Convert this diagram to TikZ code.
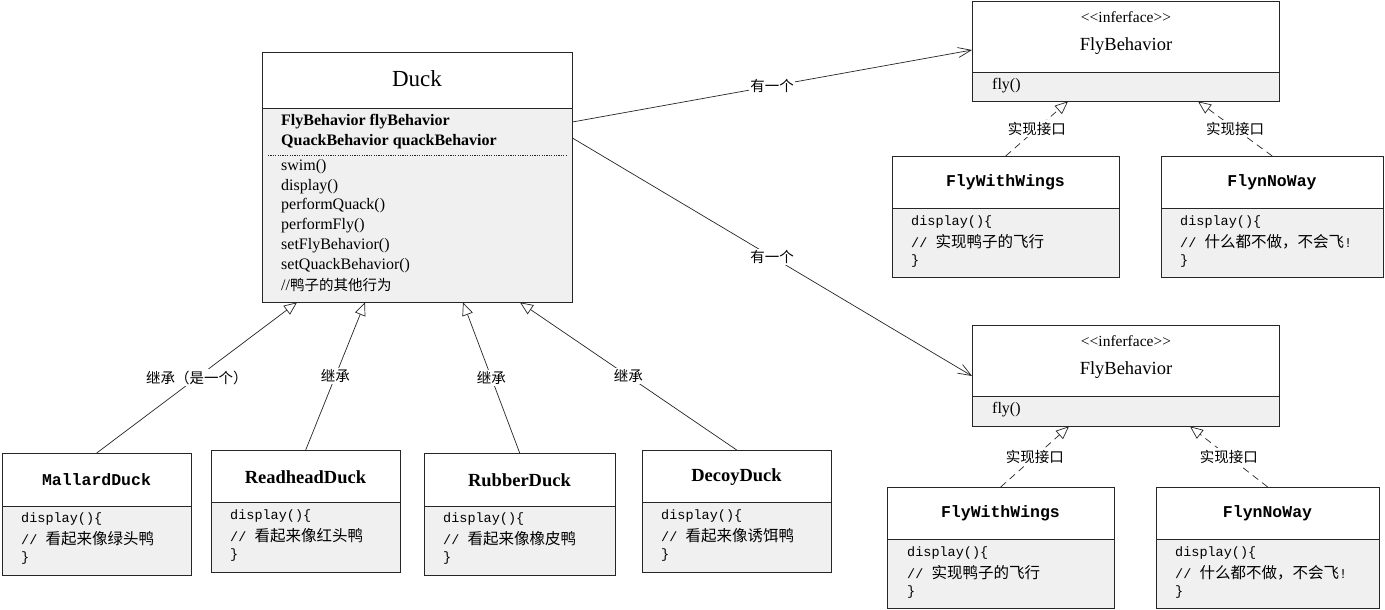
\documentclass[tikz,border=0pt]{standalone}
\usepackage{fontspec}
\setmainfont{Liberation Serif}
\newfontfamily\rawserif{Liberation Serif}
\newfontfamily\cjk{Noto Sans CJK SC}
\newfontfamily\mono{Liberation Mono}
\usetikzlibrary{arrows.meta,calc}
\definecolor{bodygray}{HTML}{F0F0F0}
\definecolor{edge}{HTML}{262626}
\tikzset{
 umlbox/.style={fill=bodygray, inner sep=0pt, anchor=north west},
 lbl/.style={fill=white, inner sep=1.5pt, font=\cjk\fontsize{14.5}{15}\selectfont},
 inh/.style={draw=edge, line width=0.7pt, -{Triangle[open, length=13pt, width=11pt, fill=white]}},
 real/.style={inh, dash pattern=on 7pt off 5pt},
 hasa/.style={draw=edge, line width=0.7pt, -{Straight Barb[length=13pt, width=10pt]}},
 bodytxt/.style={anchor=west, inner sep=0pt, font=\mono\fontsize{13.5}{16}\selectfont},
 ducktxt/.style={anchor=west, inner sep=0pt, font=\fontsize{16}{17}\selectfont},
 sertitle/.style={inner sep=0pt, font=\bfseries\fontsize{18.5}{19}\selectfont},
 montitle/.style={inner sep=0pt, font=\mono\bfseries\fontsize{16.5}{18}\selectfont},
 stereo/.style={inner sep=0pt, font=\rawserif\fontsize{15.5}{16}\selectfont},
}
\newcommand\umlrect[6]{%
 \node[umlbox, minimum width=#4pt-#2pt, minimum height=#5pt-#3pt] (#1) at (#2,#3) {};
 \fill[white] (#2,#3) rectangle (#4,#6);
 \draw[edge, line width=0.9pt] (#2,#6) -- (#4,#6);
 \draw[edge, line width=0.9pt] (#1.north west) rectangle (#1.south east);
}
\newcommand\bodylines[5]{% x, y1, line1, line2, line3
 \node[bodytxt] at (#1,#2) {#3};
 \node[bodytxt] at (#1,#2+19.5) {#4};
 \node[bodytxt] at (#1,#2+39) {#5};
}
\begin{document}
\begin{tikzpicture}[x=1pt,y=-1pt]
\fill[white] (0,0) rectangle (1385,610);
\useasboundingbox (0,0) rectangle (1385,610);

% Duck
\umlrect{duck}{262}{52}{572}{302}{108}
\node[inner sep=0pt, font=\fontsize{23}{24}\selectfont] (ducktitle) at (417,79) {Duck};
\node[ducktxt, font=\bfseries\fontsize{16}{17}\selectfont] at (281,122) {FlyBehavior flyBehavior};
\node[ducktxt, font=\bfseries\fontsize{16}{17}\selectfont] at (281,142) {QuackBehavior quackBehavior};
\draw[edge, line width=0.6pt, dash pattern=on 1.2pt off 1.2pt] (268,155) -- (566,155);
\node[ducktxt] at (281,167) {swim()};
\node[ducktxt] at (281,186.5) {display()};
\node[ducktxt] at (281,206) {performQuack()};
\node[ducktxt] at (281,226) {performFly()};
\node[ducktxt] at (281,246) {setFlyBehavior()};
\node[ducktxt] at (281,266) {setQuackBehavior()};
\node[ducktxt] at (281,285) {//{\cjk\fontsize{14.5}{16}\selectfont 鸭子的其他行为}};

% Top interface
\umlrect{fbA}{972}{1}{1279}{101}{72}
\node[stereo] at (1126,17) {<<inferface>>};
\node[inner sep=0pt, font=\fontsize{18.5}{20}\selectfont] at (1126,46) {FlyBehavior};
\node[ducktxt] at (992,86) {fly()};

% Top implementations
\umlrect{fwwA}{892}{156}{1119}{277}{208}
\node[montitle] at (1005.5,182) {FlyWithWings};
\bodylines{911}{222}{display()\{}{// {\cjk\fontsize{15.5}{16}\selectfont 实现鸭子的飞行}}{\}}
\umlrect{fnwA}{1161}{156}{1383}{277}{208}
\node[montitle] at (1272,182) {FlynNoWay};
\bodylines{1180}{222}{display()\{}{// {\cjk\fontsize{15.5}{16}\selectfont 什么都不做，不会飞}!}{\}}

% Lower interface
\umlrect{fbB}{972}{325}{1279}{426}{396}
\node[stereo] at (1126,341) {<<inferface>>};
\node[inner sep=0pt, font=\fontsize{18.5}{20}\selectfont] at (1126,370) {FlyBehavior};
\node[ducktxt] at (992,410) {fly()};

% Lower implementations
\umlrect{fwwB}{887}{487}{1114}{608}{539}
\node[montitle] at (1000.5,513) {FlyWithWings};
\bodylines{907}{553}{display()\{}{// {\cjk\fontsize{15.5}{16}\selectfont 实现鸭子的飞行}}{\}}
\umlrect{fnwB}{1156}{487}{1379}{608}{539}
\node[montitle] at (1267.5,513) {FlynNoWay};
\bodylines{1175}{553}{display()\{}{// {\cjk\fontsize{15.5}{16}\selectfont 什么都不做，不会飞}!}{\}}

% Duck subclasses
\umlrect{mallard}{2}{453}{191}{575}{506}
\node[montitle] at (96.5,480) {MallardDuck};
\bodylines{21}{519}{display()\{}{// {\cjk\fontsize{15.5}{16}\selectfont 看起来像绿头鸭}}{\}}
\umlrect{readhead}{211}{450}{400}{572}{502}
\node[sertitle] at (305.5,477) {ReadheadDuck};
\bodylines{230}{516}{display()\{}{// {\cjk\fontsize{15.5}{16}\selectfont 看起来像红头鸭}}{\}}
\umlrect{rubber}{424}{453}{615}{575}{506}
\node[sertitle] at (519.5,480) {RubberDuck};
\bodylines{443}{519}{display()\{}{// {\cjk\fontsize{15.5}{16}\selectfont 看起来像橡皮鸭}}{\}}
\umlrect{decoy}{642}{450}{831}{572}{502}
\node[sertitle] at (736.5,477) {DecoyDuck};
\bodylines{661}{516}{display()\{}{// {\cjk\fontsize{15.5}{16}\selectfont 看起来像诱饵鸭}}{\}}

% inheritance
\draw[inh] (mallard.north) -- node[lbl] {继承（是一个）} ([xshift=35pt]duck.south west);
\draw[inh] (readhead.north) -- node[lbl] {继承} ([xshift=103pt]duck.south west);
\draw[inh] (rubber.north) -- node[lbl] {继承} ([xshift=201pt]duck.south west);
\draw[inh] (decoy.north) -- node[lbl] {继承} ([xshift=258pt]duck.south west);

% has-a
\draw[hasa] ([yshift=-70pt]duck.north east) -- node[lbl] {有一个} ([yshift=-49pt]fbA.north west);
\draw[hasa] ([yshift=-86pt]duck.north east) -- node[lbl] {有一个} ([yshift=-51pt]fbB.north west);

% realization
\draw[real] (fwwA.north) -- node[lbl] {实现接口} ([xshift=96pt]fbA.south west);
\draw[real] (fnwA.north) -- node[lbl] {实现接口} ([xshift=226pt]fbA.south west);
\draw[real] (fwwB.north) -- node[lbl] {实现接口} ([xshift=97pt]fbB.south west);
\draw[real] (fnwB.north) -- node[lbl] {实现接口} ([xshift=218pt]fbB.south west);
\end{tikzpicture}
\end{document}
